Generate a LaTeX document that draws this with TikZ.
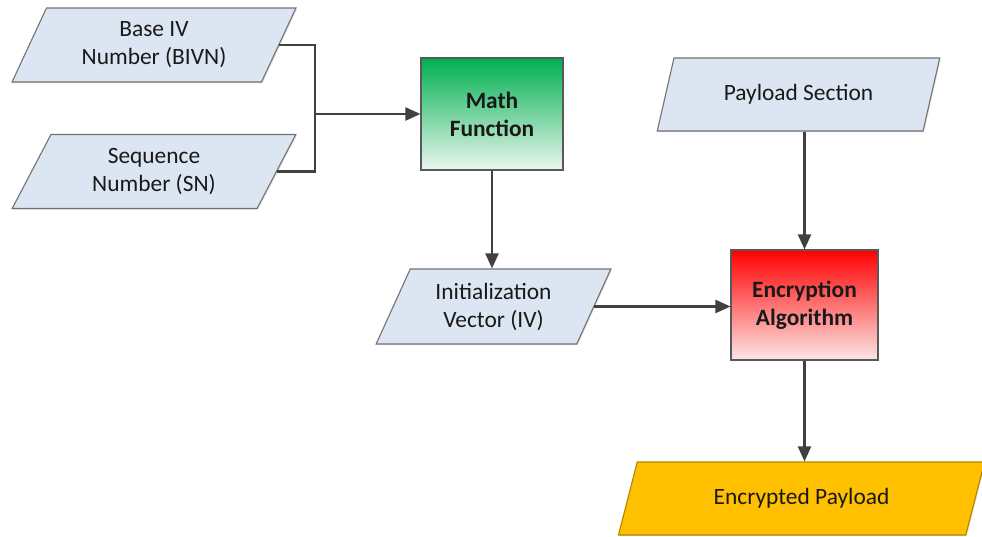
\documentclass[tikz,border=0pt]{standalone}
\usepackage{fontspec}
\setmainfont{Carlito}
\usetikzlibrary{shapes.geometric,arrows.meta,shadows}
\definecolor{pblue}{HTML}{DCE6F2}
\definecolor{pedge}{HTML}{737373}
\definecolor{lcol}{HTML}{404040}
\definecolor{mgreen}{HTML}{00B050}
\definecolor{mgreenl}{HTML}{EAF6EE}
\definecolor{ered}{HTML}{FF0000}
\definecolor{eredl}{HTML}{FCE6E6}
\definecolor{gold}{HTML}{FFC000}
\definecolor{goldedge}{HTML}{B38600}
\tikzset{
  txt/.style={font=\fontsize{23.4}{28}\selectfont, align=center, text=black!90},
  para/.style={txt, trapezium, trapezium left angle=63.4, trapezium right angle=116.6,
    trapezium stretches=true, inner sep=0pt, fill=pblue, draw=pedge, line width=1.1pt,
    drop shadow={shadow xshift=1pt, shadow yshift=-1.2pt, opacity=0.25}},
  procbox/.style={txt, font=\fontsize{23.4}{28}\selectfont\bfseries, rectangle, inner sep=0pt,
    draw=black!65, line width=1.1pt,
    drop shadow={shadow xshift=1pt, shadow yshift=-1.2pt, opacity=0.25}},
  conn/.style={draw=lcol, line width=2.2pt},
  arr/.style={conn, -{Triangle[length=15pt,width=13pt]}}
}
\begin{document}
\begin{tikzpicture}[x=1pt,y=-1pt]
\useasboundingbox (0,0) rectangle (982,536);
\node[para, minimum width=284, minimum height=74] (bivn) at (154,45) {Base IV\\Number (BIVN)};
\node[para, minimum width=284, minimum height=74] (sn) at (154,171.5) {Sequence\\Number (SN)};
\node[procbox, minimum width=142, minimum height=112, top color=mgreen, bottom color=mgreenl] (math) at (492,114) {Math\\Function};
\node[para, minimum width=235, minimum height=75] (iv) at (493.5,306.5) {Initialization\\Vector (IV)};
\node[para, minimum width=283, minimum height=73] (pay) at (798.5,94.5) {Payload Section};
\node[procbox, minimum width=147, minimum height=110, top color=ered, bottom color=eredl] (enc) at (804.5,305) {Encryption\\Algorithm};
\node[para, minimum width=367, minimum height=73, fill=gold, draw=goldedge] (ep) at (801.5,498.5) {Encrypted Payload};
\coordinate (j) at (315,114);
\draw[conn] (bivn.east) -| (j);
\draw[conn] (sn.east) -| (j);
\draw[arr] (j) -- (math.west);
\draw[arr] (math.south) -- (math.south |- iv.north);
\draw[arr] (iv.east) -- (iv.east -| enc.west);
\draw[arr] (enc.north |- pay.south) -- (enc.north);
\draw[arr] (enc.south) -- (enc.south |- ep.north);
\end{tikzpicture}
\end{document}
